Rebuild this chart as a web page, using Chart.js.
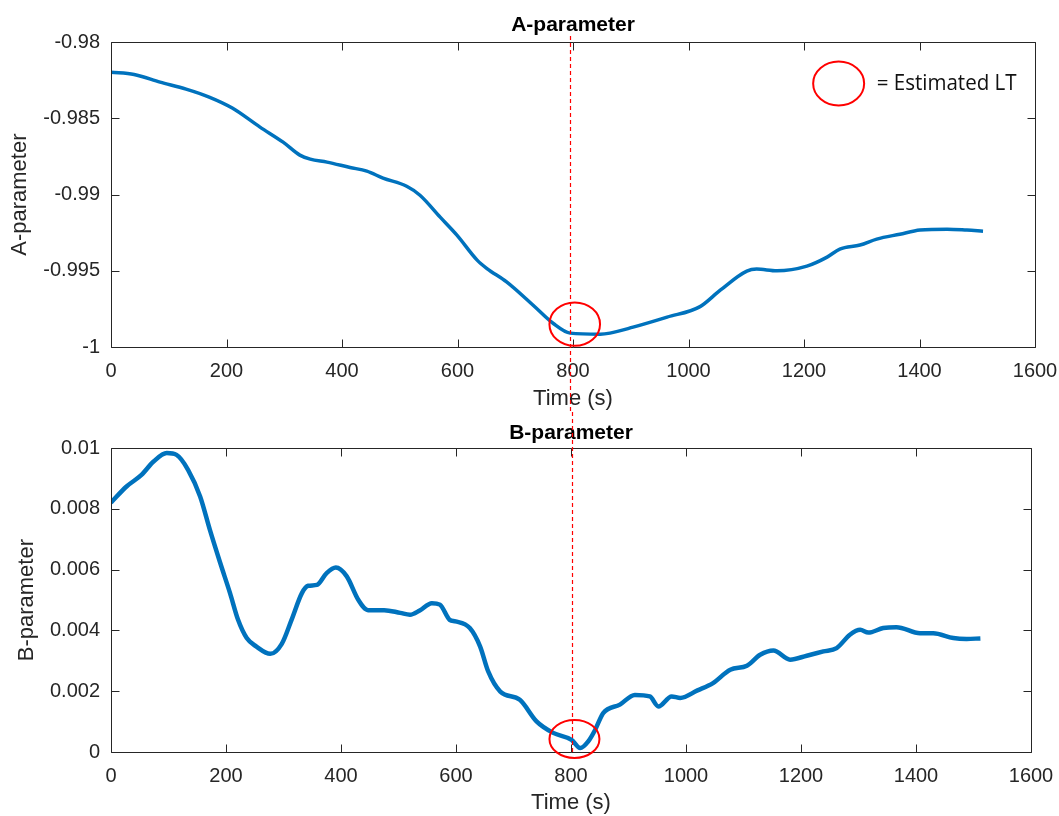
<!DOCTYPE html>
<html>
<head>
<meta charset="utf-8">
<script src="https://cdn.jsdelivr.net/npm/chart.js@4.4.0/dist/chart.umd.min.js"></script>
<style>
  html, body { margin: 0; padding: 0; background: #fff; }
  #wrapA { position: absolute; left: 0; top: 0; width: 1059px; height: 412px; }
  #wrapB { position: absolute; left: 0; top: 412px; width: 1059px; height: 404px; }
</style>
</head>
<body>
<div id="wrapA"><canvas id="chartA"></canvas></div>
<div id="wrapB"><canvas id="chartB"></canvas></div>
<script>
// A-parameter
const timeA = [0, 40, 85, 130, 170, 210, 258, 298, 327, 345, 374, 414, 443, 471, 512, 535, 570, 599,
  634, 651, 685, 731, 766, 795, 847, 864, 904, 963, 1020, 1055, 1101, 1118, 1153, 1205, 1240, 1262,
  1297, 1326, 1366, 1401, 1448, 1482, 1510];
const valuesA = [-0.98197, -0.98212, -0.98262, -0.98308, -0.98360, -0.98432, -0.98557, -0.98656,
  -0.98741, -0.98767, -0.98787, -0.98822, -0.98846, -0.98892, -0.98945, -0.99004, -0.99148, -0.99266,
  -0.99430, -0.99485, -0.99573, -0.99726, -0.99846, -0.99909, -0.99916, -0.99909, -0.99870, -0.99804,
  -0.99735, -0.99627, -0.99502, -0.99489, -0.99500, -0.99469, -0.99410, -0.99358, -0.99331, -0.99292,
  -0.99260, -0.99233, -0.99227, -0.99233, -0.99240];

// B-parameter
const timeB = [0, 27, 53, 74, 97, 114, 134, 155, 172, 190, 207, 221, 236, 253, 277, 297, 314, 332,
  343, 358, 375, 391, 410, 430, 447, 475, 503, 520, 537, 558, 572, 589, 599, 624, 642, 656, 677, 711,
  740, 769, 801, 816, 830, 842, 856, 885, 911, 937, 952, 975, 990, 1020, 1047, 1077, 1106, 1129, 1152,
  1181, 1210, 1239, 1262, 1285, 1303, 1317, 1343, 1366, 1407, 1430, 1465, 1488, 1512];
const valuesB = [0.00821, 0.00874, 0.00912, 0.00956, 0.00984, 0.00978, 0.00929, 0.00841, 0.00731,
  0.00622, 0.00523, 0.00435, 0.00375, 0.00347, 0.00323, 0.00356, 0.00435, 0.00523, 0.00547, 0.00550,
  0.00589, 0.00607, 0.00578, 0.00501, 0.00467, 0.00467, 0.00458, 0.00452, 0.00466, 0.00490, 0.00485,
  0.00435, 0.00430, 0.00408, 0.00347, 0.00265, 0.00199, 0.00172, 0.00101, 0.00063, 0.00040, 0.00013,
  0.00035, 0.00073, 0.00128, 0.00156, 0.00188, 0.00183, 0.00150, 0.00183, 0.00178, 0.00203, 0.00227,
  0.00271, 0.00284, 0.00320, 0.00334, 0.00304, 0.00317, 0.00331, 0.00342, 0.00386, 0.00402, 0.00393,
  0.00408, 0.00411, 0.00391, 0.00391, 0.00375, 0.00372, 0.00374];

const timeTicks = [0, 200, 400, 600, 800, 1000, 1200, 1400, 1600];
const aTicks = [-1, -0.995, -0.99, -0.985, -0.98];
const bTicks = [0, 0.002, 0.004, 0.006, 0.008, 0.01];

// estimated LT marks
const ltTimeA = 795;
const ltTimeB = 801;
const ltCircleA = [803, -0.9985];
const ltCircleB = [806, 0.00043];
const legendCircle = [1260, -0.98271];

const FONT = "'Liberation Sans', Arial, Helvetica, sans-serif";
const TXT = '#262626';

// MATLAB style box with inward ticks on all sides
const matlabAxes = {
  id: 'matlabAxes',
  afterDatasetsDraw(chart) {
    const {ctx, chartArea: a, scales: {x, y}} = chart;
    const L = Math.round(a.left) + 0.5, R = Math.round(a.right) + 0.5;
    const T = Math.round(a.top) + 0.5, B = Math.round(a.bottom) + 0.5;
    ctx.save();
    ctx.strokeStyle = '#262626';
    ctx.lineWidth = 1;
    ctx.beginPath();
    ctx.rect(L, T, R - L, B - T);
    x.ticks.forEach(t => {
      const px = Math.round(x.getPixelForValue(t.value)) + 0.5;
      ctx.moveTo(px, B); ctx.lineTo(px, B - 8);
      ctx.moveTo(px, T); ctx.lineTo(px, T + 8);
    });
    y.ticks.forEach(t => {
      const py = Math.round(y.getPixelForValue(t.value)) + 0.5;
      ctx.moveTo(L, py); ctx.lineTo(L + 8, py);
      ctx.moveTo(R, py); ctx.lineTo(R - 8, py);
    });
    ctx.stroke();
    ctx.restore();
  }
};

const ltMarks = {
  id: 'ltMarks',
  afterDraw(chart, args, o) {
    const {ctx, chartArea: a, scales: {x, y}} = chart;
    ctx.save();
    // dashed line
    const lx = Math.round(x.getPixelForValue(o.time)) + 0.5;
    ctx.strokeStyle = 'rgb(255,0,0)';
    ctx.lineWidth = 1.2;
    ctx.setLineDash([4, 3]);
    ctx.beginPath();
    ctx.moveTo(lx, o.lineTop);
    ctx.lineTo(lx, o.lineBottom == null ? a.bottom : o.lineBottom);
    ctx.stroke();
    ctx.setLineDash([]);
    // circles
    ctx.lineWidth = 2;
    const ell = (c, rx, ry) => {
      ctx.beginPath();
      ctx.ellipse(x.getPixelForValue(c[0]), y.getPixelForValue(c[1]), rx, ry, 0, 0, Math.PI * 2);
      ctx.stroke();
    };
    ell(o.circle, o.rx, o.ry);
    if (o.legend) {
      ell(o.legend, 25.5, 22);
      ctx.fillStyle = '#111';
      ctx.font = "21px 'Open Sans', 'Noto Sans', sans-serif";
      ctx.textBaseline = 'middle';
      ctx.textAlign = 'left';
      ctx.fillText('= Estimated LT', x.getPixelForValue(o.legend[0]) + 38, y.getPixelForValue(o.legend[1]) + 1, 140);
    }
    ctx.restore();
  }
};

function makeChart(id, opt) {
  return new Chart(document.getElementById(id), {
    type: 'line',
    data: {
      datasets: [{
        data: opt.times.map((t, i) => ({x: t, y: opt.values[i]})),
        borderColor: '#0072BD',
        borderWidth: opt.lineWidth,
        pointRadius: 0,
        fill: false,
        cubicInterpolationMode: 'monotone'
      }]
    },
    plugins: [matlabAxes, ltMarks],
    options: {
      responsive: true,
      maintainAspectRatio: false,
      animation: false,
      layout: {padding: {left: 0, right: opt.padRight, top: 0, bottom: 0}},
      plugins: {
        legend: {display: false},
        tooltip: {enabled: false},
        title: {
          display: true,
          fullSize: false,
          text: opt.title,
          color: '#000',
          font: {family: FONT, size: 21, weight: 'bold'},
          padding: opt.titlePad
        },
        ltMarks: opt.lt
      },
      scales: {
        x: {
          type: 'linear',
          min: 0, max: 1600,
          afterBuildTicks: s => { s.ticks = timeTicks.map(v => ({value: v})); },
          afterFit: s => { s.height = opt.xHeight; s.paddingLeft = 0; s.paddingRight = 0; },
          grid: {display: false, drawTicks: false},
          border: {display: false},
          ticks: {color: TXT, font: {family: FONT, size: 20}, padding: 12, maxRotation: 0, autoSkip: false,
                  callback: v => String(v)},
          title: {display: true, text: 'Time (s)', color: TXT, font: {family: FONT, size: 22}, padding: {top: 0, bottom: opt.xTitleBottom}}
        },
        y: {
          min: opt.yTicks[0], max: opt.yTicks[opt.yTicks.length - 1],
          afterBuildTicks: s => { s.ticks = opt.yTicks.map(v => ({value: v})); },
          afterFit: s => { s.width = 111; s.paddingTop = 0; s.paddingBottom = 0; },
          grid: {display: false, drawTicks: false},
          border: {display: false},
          ticks: {color: TXT, font: {family: FONT, size: 20}, padding: 11, callback: v => String(+v.toFixed(4))},
          title: {display: true, text: opt.yTitle, color: TXT, font: {family: FONT, size: 22}, padding: {top: opt.yTitleTop, bottom: 0}}
        }
      }
    }
  });
}

makeChart('chartA', {
  times: timeA, values: valuesA, lineWidth: 3.5, padRight: 24,
  title: 'A-parameter', titlePad: {top: 13, bottom: 4},
  xHeight: 65, xTitleBottom: 0, yTicks: aTicks, yTitle: 'A-parameter', yTitleTop: 7,
  lt: {time: ltTimeA, lineTop: 36, lineBottom: 412, circle: ltCircleA, rx: 25.3, ry: 21.7, legend: legendCircle}
});

makeChart('chartB', {
  times: timeB, values: valuesB, lineWidth: 4.5, padRight: 28,
  title: 'B-parameter', titlePad: {top: 9, bottom: 2},
  xHeight: 64, xTitleBottom: 0, yTicks: bTicks, yTitle: 'B-parameter', yTitleTop: 14,
  lt: {time: ltTimeB, lineTop: 0, lineBottom: null, circle: ltCircleB, rx: 25, ry: 19}
});
</script>
</body>
</html>
